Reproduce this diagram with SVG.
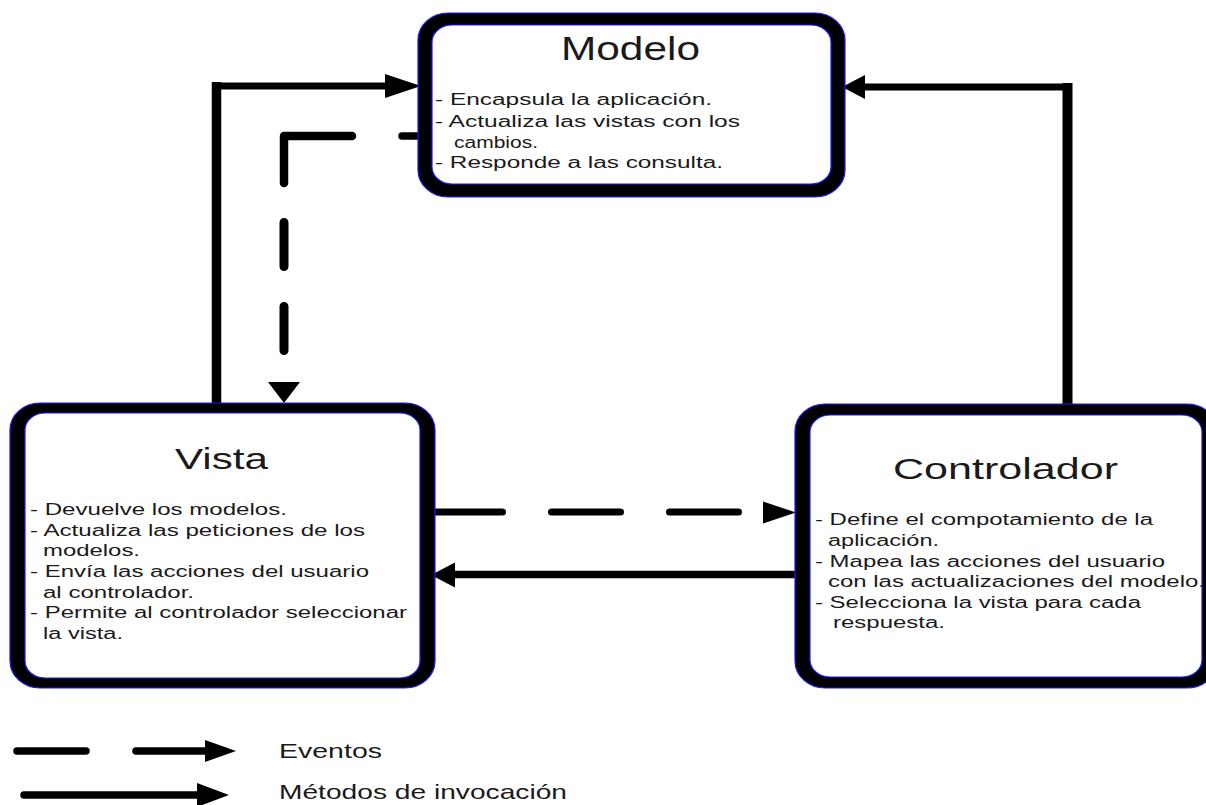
<svg xmlns="http://www.w3.org/2000/svg" width="1206" height="805" viewBox="0 0 1206 805">
  <style>
    .frame { fill: #000; fill-rule: evenodd; stroke: #1c1cff; stroke-width: 1.2; }
    .txt { font-family: "Liberation Sans", Arial, sans-serif; fill: #1a1a1a; }
    .title { font-size: 29px; }
    .body { font-size: 16px; }
    .legend { font-size: 21px; }
    .line { stroke: #000; fill: none; }
    .dash { stroke: #000; fill: none; stroke-linecap: round; stroke-linejoin: round; }
    .head { fill: #000; }
  </style>

  <rect width="1206" height="805" fill="#fff"/>

  <!-- connectors -->
  <g id="connectors">
    <!-- Vista -> Modelo (solid) -->
    <line class="line" x1="216.5" y1="82" x2="216.5" y2="407" stroke-width="9.5"/>
    <line class="line" x1="212" y1="86" x2="390" y2="86" stroke-width="7"/>
    <polygon class="head" points="385,74 421,86 385,98"/>

    <!-- Modelo -> Vista (events, dashed) -->
    <path class="dash" d="M352,136 H284 V183" stroke-width="8.5"/>
    <path class="dash" d="M402,136 H425" stroke-width="7.5"/>
    <path class="dash" d="M284,222.5 V266.5 M284,306.5 V350.5" stroke-width="9"/>
    <polygon class="head" points="268,382 300,382 284,403"/>

    <!-- Vista -> Controlador (events, dashed) -->
    <path class="dash" d="M430,512 H502.5 M551.5,512 H620.5 M669.5,512 H738.5" stroke-width="7"/>
    <polygon class="head" points="763,501.5 796,512.5 763,523.5"/>

    <!-- Controlador -> Vista (solid) -->
    <line class="line" x1="450" y1="574.5" x2="800" y2="574.5" stroke-width="7.5"/>
    <polygon class="head" points="455,562.5 431,575 455,587.5"/>

    <!-- Controlador -> Modelo (solid) -->
    <line class="line" x1="1067.5" y1="83" x2="1067.5" y2="406" stroke-width="10"/>
    <line class="line" x1="860" y1="87" x2="1072" y2="87" stroke-width="7"/>
    <polygon class="head" points="865,75 842,87 865,99"/>
  </g>

  <!-- Modelo -->
  <g id="modelo">
    <path class="frame" d="M448,13 H815 A30 27 0 0 1 845,40 V170 A30 27 0 0 1 815,197 H448 A30 27 0 0 1 418,170 V40 A30 27 0 0 1 448,13 Z M452,25 H811 A20 17 0 0 1 831,42 V167 A20 17 0 0 1 811,184 H452 A20 17 0 0 1 432,167 V42 A20 17 0 0 1 452,25 Z"/>
    <text class="txt" x="561" y="60" font-size="34" textLength="139" lengthAdjust="spacingAndGlyphs">Modelo</text>
    <text class="txt body" x="435" y="105" textLength="277" lengthAdjust="spacingAndGlyphs">- Encapsula la aplicación.</text>
    <text class="txt body" x="435" y="127" textLength="305" lengthAdjust="spacingAndGlyphs">- Actualiza las vistas con los</text>
    <text class="txt body" x="454" y="148" textLength="84" lengthAdjust="spacingAndGlyphs">cambios.</text>
    <text class="txt body" x="435" y="168" textLength="288" lengthAdjust="spacingAndGlyphs">- Responde a las consulta.</text>
  </g>

  <!-- Vista -->
  <g id="vista">
    <path class="frame" d="M40,403 H405 A30 27 0 0 1 435,430 V661 A30 27 0 0 1 405,688 H40 A30 27 0 0 1 10,661 V430 A30 27 0 0 1 40,403 Z M45,413 H400 A20 17 0 0 1 420,430 V661 A20 17 0 0 1 400,678 H45 A20 17 0 0 1 25,661 V430 A20 17 0 0 1 45,413 Z"/>
    <text class="txt title" x="175" y="469" textLength="93" lengthAdjust="spacingAndGlyphs">Vista</text>
    <text class="txt body" x="30" y="515" textLength="257" lengthAdjust="spacingAndGlyphs">- Devuelve los modelos.</text>
    <text class="txt body" x="30" y="536" textLength="335" lengthAdjust="spacingAndGlyphs">- Actualiza las peticiones de los</text>
    <text class="txt body" x="43" y="556" textLength="97" lengthAdjust="spacingAndGlyphs">modelos.</text>
    <text class="txt body" x="30" y="577" textLength="339" lengthAdjust="spacingAndGlyphs">- Envía las acciones del usuario</text>
    <text class="txt body" x="43" y="598" textLength="151" lengthAdjust="spacingAndGlyphs">al controlador.</text>
    <text class="txt body" x="30" y="618" textLength="377" lengthAdjust="spacingAndGlyphs">- Permite al controlador seleccionar</text>
    <text class="txt body" x="43" y="639" textLength="80" lengthAdjust="spacingAndGlyphs">la vista.</text>
  </g>

  <!-- Controlador -->
  <g id="controlador">
    <path class="frame" d="M825,404 H1187 A30 27 0 0 1 1217,431 V661 A30 27 0 0 1 1187,688 H825 A30 27 0 0 1 795,661 V431 A30 27 0 0 1 825,404 Z M830,415 H1182 A20 17 0 0 1 1202,432 V660 A20 17 0 0 1 1182,677 H830 A20 17 0 0 1 810,660 V432 A20 17 0 0 1 830,415 Z"/>
    <text class="txt title" x="893" y="479" textLength="225" lengthAdjust="spacingAndGlyphs">Controlador</text>
    <text class="txt body" x="815" y="525" textLength="338" lengthAdjust="spacingAndGlyphs">- Define el compotamiento de la</text>
    <text class="txt body" x="828" y="546" textLength="111" lengthAdjust="spacingAndGlyphs">aplicación.</text>
    <text class="txt body" x="815" y="567" textLength="350" lengthAdjust="spacingAndGlyphs">- Mapea las acciones del usuario</text>
    <text class="txt body" x="828" y="587" textLength="377" lengthAdjust="spacingAndGlyphs">con las actualizaciones del modelo.</text>
    <text class="txt body" x="815" y="608" textLength="326" lengthAdjust="spacingAndGlyphs">- Selecciona la vista para cada</text>
    <text class="txt body" x="833" y="628" textLength="112" lengthAdjust="spacingAndGlyphs">respuesta.</text>
  </g>

  <!-- legend -->
  <g id="legend">
    <path class="dash" d="M17,751 H86 M136,751 H206" stroke-width="7.5"/>
    <polygon class="head" points="205,740 236,751 205,762"/>
    <text class="txt legend" x="279" y="758" textLength="103" lengthAdjust="spacingAndGlyphs">Eventos</text>
    <path class="dash" d="M24,795 H200" stroke-width="7.5"/>
    <polygon class="head" points="197,783 229,795 197,807"/>
    <text class="txt legend" x="279" y="799" textLength="288" lengthAdjust="spacingAndGlyphs">Métodos de invocación</text>
  </g>
</svg>
